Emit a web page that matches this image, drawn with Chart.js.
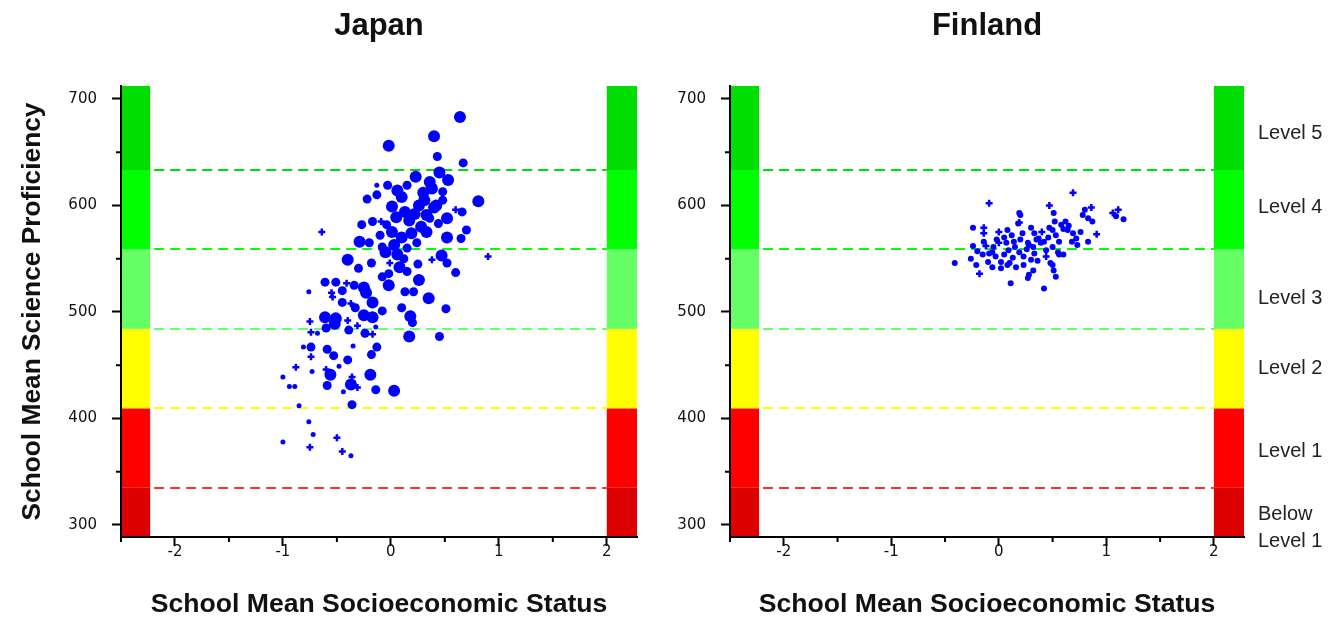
<!DOCTYPE html>
<html>
<head>
<meta charset="utf-8">
<script src="https://cdn.jsdelivr.net/npm/chart.js@4.4.1/dist/chart.umd.min.js"></script>
<style>
  body { margin: 0; background: #fff; }
  #wrap { position: relative; width: 1333px; height: 619px; }
  canvas { position: absolute; top: 0; }
</style>
</head>
<body>
<div id="wrap">
  <canvas id="japanChart" width="665" height="619" style="left:0"></canvas>
  <canvas id="finlandChart" width="668" height="619" style="left:665px"></canvas>
</div>
<script>
// Japan: school mean SES, school mean science score, school size class (0 = smallest)
const jpSes = [
  0.64, 0.40, -0.02, 0.43, 0.67, 0.23, 0.36, 0.45, 0.53, 0.15, -0.03, -0.13, 0.06, 0.38, 0.48,
  -0.13, -0.22, 0.31, 0.48, 0.81, 0.01, 0.13, 0.40, 0.60, 0.66, 0.17, 0.36, 0.52, -0.17, -0.27,
  -0.09, -0.04, 0.01, 0.19, 0.33, 0.52, 0.70, 0.65, -0.64, -0.29, -0.20, 0.03, -0.08, 0.15, 0.24,
  0.06, -0.40, -0.18, -0.01, 0.08, 0.15, 0.38, 0.47, 0.52, 0.60, 0.90, -0.08, -0.02, 0.26, 0.13,
  0.21, 0.35, -0.25, -0.34, -0.41, -0.61, -0.51, -0.76, -0.55, -0.54, -0.45, -0.37, -0.33, -0.23, -0.17,
  -0.25, -0.17, -0.08, 0.10, 0.18, 0.20, 0.51, -0.61, -0.51, -0.52, -0.60, -0.40, -0.39, -0.31, -0.24,
  -0.14, -0.17, -0.75, -0.74, -0.68, 0.17, 0.45, -0.81, -0.74, -0.59, -0.53, -0.35, -0.13, -0.18, -0.40,
  -0.48, -0.74, -0.88, -0.73, -0.60, -0.56, -0.36, -0.19, -1.00, -0.94, -0.89, -0.59, -0.37, -0.31, -0.44,
  -0.14, 0.03, -0.85, -0.36, -0.76, -0.72, -0.50, -1.00, -0.75, -0.45, -0.37, 0.42, 0.26, 0.10, 0.30,
  0.22, 0.05, 0.28, 0.10, -0.05, 0.12, 0.33, -0.10, 0.44, -0.30, -0.02, 0.25, -0.45
];
const jpSci = [
  683, 665, 656, 646, 640, 627, 622, 631, 624, 619, 619, 619, 614, 616, 613,
  610, 606, 605, 605, 604, 599, 594, 598, 596, 594, 586, 588, 588, 585, 582,
  585, 582, 575, 574, 575, 570, 577, 569, 575, 566, 565, 563, 561, 560, 565,
  554, 549, 546, 546, 542, 538, 549, 553, 546, 537, 552, 533, 525, 530, 519,
  519, 513, 523, 525, 527, 528, 528, 519, 518, 514, 509, 508, 504, 518, 509,
  497, 495, 501, 504, 496, 490, 503, 495, 494, 489, 485, 492, 483, 487, 480,
  486, 479, 491, 481, 480, 477, 477, 467, 467, 465, 459, 468, 467, 460, 455,
  449, 458, 448, 444, 446, 441, 439, 441, 439, 430, 430, 431, 432, 429, 425,
  427, 426, 412, 413, 397, 385, 382, 378, 373, 369, 365, 600, 600, 608, 612,
  592, 589, 580, 570, 556, 550, 591, 572, 583, 541, 536, 545, 520
];
const jpWeight = [
  3, 3, 3, 2, 2, 3, 3, 3, 3, 2, 2, 1, 3, 3, 2,
  2, 2, 3, 2, 3, 3, 3, 3, 0, 2, 3, 2, 3, 2, 2,
  0, 2, 3, 3, 3, 3, 2, 2, 0, 3, 2, 3, 2, 2, 2,
  3, 3, 2, 0, 3, 2, 0, 3, 2, 2, 0, 2, 3, 3, 2,
  2, 3, 3, 2, 0, 2, 2, 1, 0, 0, 2, 0, 2, 3, 3,
  3, 3, 2, 2, 3, 2, 2, 3, 3, 3, 2, 0, 2, 0, 2,
  1, 0, 0, 0, 1, 3, 2, 1, 2, 2, 2, 1, 2, 2, 2,
  1, 0, 0, 1, 0, 3, 0, 3, 1, 1, 1, 2, 3, 0, 1,
  2, 3, 1, 2, 1, 1, 0, 1, 0, 0, 1, 3, 3, 3, 3,
  3, 3, 3, 3, 3, 2, 3, 2, 2, 2, 2, 2, 2
];

// Finland
const fiSes = [
  0.69, -0.09, 0.19, 0.20, 0.47, 0.51, 0.86, 0.78, 0.83, 0.87, 1.06, 1.11, 1.16, 0.62, -0.24,
  -0.14, -0.14, 0.00, 0.08, 0.19, 0.30, 0.33, 0.37, 0.42, 0.50, 0.53, 0.58, 0.64, 0.69, 0.76,
  0.91, 0.83, 0.73, -0.14, -0.24, 0.00, 0.07, 0.14, 0.20, 0.27, 0.32, 0.33, 0.30, 0.23, 0.16,
  0.08, 0.02, -0.03, -0.06, -0.09, -0.05, 0.09, 0.19, 0.23, 0.13, 0.05, 0.39, 0.44, 0.50, 0.55,
  0.60, 0.44, 0.50, 0.51, 0.53, 0.32, 0.28, 0.27, 0.11, 0.42, -0.18, -0.21, -0.26, -0.41, -0.20,
  -0.15, -0.10, -0.06, 0.02, 0.56, 0.60, 0.65, 0.18, 0.12, 0.22, 0.05, -0.02, 0.26, 0.35, 0.40,
  0.46, 0.52, 0.47, 0.56, 0.68, 0.72, 1.09, 0.80, 0.36, 0.48, 0.10, -0.12, 0.15, 0.28
];
const fiSci = [
  612, 602, 593, 591, 600, 593, 598, 591, 588, 585, 593, 596, 587, 585, 579,
  579, 574, 575, 577, 584, 579, 574, 569, 566, 577, 572, 582, 577, 574, 575,
  573, 566, 563, 566, 562, 565, 565, 566, 568, 565, 561, 555, 549, 544, 542,
  544, 547, 552, 556, 555, 561, 558, 556, 552, 551, 554, 565, 558, 561, 556,
  554, 552, 544, 539, 533, 539, 535, 532, 527, 522, 536, 544, 550, 546, 557,
  554, 547, 542, 541, 554, 578, 581, 583, 572, 574, 570, 568, 559, 568, 575,
  570, 585, 579, 566, 566, 569, 590, 596, 548, 546, 546, 562, 561, 563
];
const fiWeight = [
  0, 0, 1, 1, 0, 1, 0, 1, 1, 1, 0, 0, 1, 1, 1,
  0, 0, 0, 1, 0, 1, 1, 1, 1, 1, 1, 1, 1, 1, 1,
  0, 1, 1, 1, 1, 0, 1, 1, 1, 1, 1, 1, 1, 1, 1,
  1, 1, 1, 1, 1, 1, 1, 1, 1, 1, 1, 1, 1, 1, 1,
  1, 0, 1, 1, 1, 1, 1, 1, 1, 1, 0, 1, 1, 1, 1,
  1, 1, 1, 1, 1, 1, 1, 1, 1, 1, 1, 1, 1, 1, 0,
  1, 1, 1, 1, 1, 1, 1, 1, 1, 1, 1, 0, 1, 1
];

// PISA science proficiency cut scores and level names (bottom to top)
const levelCuts = [334.94, 409.54, 484.14, 558.73, 633.33];
const levelNames = ['Below|Level 1', 'Level 1', 'Level 2', 'Level 3', 'Level 4', 'Level 5'];
const levelLabelAt = [297, 369, 447, 513, 598, 668];
const yTicks = [300, 400, 500, 600, 700];
const xTicks = [-2, -1, 0, 1, 2];

const bandColors = ['#dd0000', '#ff0000', '#ffff00', '#66ff66', '#00ff00', '#00dd00'];
const cutColors = ['#ff3030', '#ffff00', '#66ff66', '#00ff00', '#00dd00'];

Chart.defaults.font.family = 'Arial, "Liberation Sans", sans-serif';

// coloured level strips at both ends of the x axis plus dashed cut lines
const levelBands = {
    id: 'levelBands',
    beforeDraw(chart) {
        const { ctx, chartArea, scales: { x, y } } = chart;
        const edges = [y.min, ...levelCuts, y.max];
        const l0 = chartArea.left + 1;
        const l1 = x.getPixelForValue(-2.23);
        const r0 = x.getPixelForValue(2);
        const r1 = x.getPixelForValue(x.max);
        ctx.save();
        for (let i = 0; i < bandColors.length; i++) {
            const top = y.getPixelForValue(edges[i + 1]);
            const bot = y.getPixelForValue(edges[i]);
            ctx.fillStyle = bandColors[i];
            ctx.fillRect(l0, top, l1 - l0, bot - top);
            ctx.fillRect(r0, top, r1 - r0, bot - top);
        }
        ctx.lineWidth = 2;
        ctx.setLineDash([10, 6]);
        levelCuts.forEach((cut, i) => {
            const py = Math.round(y.getPixelForValue(cut));
            ctx.strokeStyle = cutColors[i];
            ctx.beginPath();
            ctx.moveTo(l1 + 4, py);
            ctx.lineTo(r0, py);
            ctx.stroke();
        });
        ctx.restore();
    }
};

// short minor ticks, panel title, optional level names
const panelDecor = {
    id: 'panelDecor',
    afterDraw(chart, args, opts) {
        const { ctx, chartArea, scales: { x, y } } = chart;
        ctx.save();
        ctx.strokeStyle = '#000';
        ctx.lineWidth = 2;
        ctx.beginPath();
        x.ticks.forEach(t => {
            if (!xTicks.includes(t.value)) {
                const px = x.getPixelForValue(t.value);
                ctx.moveTo(px, chartArea.bottom);
                ctx.lineTo(px, chartArea.bottom + 5);
            }
        });
        y.ticks.forEach(t => {
            if (!yTicks.includes(t.value)) {
                const py = y.getPixelForValue(t.value);
                ctx.moveTo(chartArea.left, py);
                ctx.lineTo(chartArea.left - 5, py);
            }
        });
        ctx.stroke();

        ctx.fillStyle = '#111';
        ctx.font = 'bold 31px Arial, "Liberation Sans", sans-serif';
        ctx.textAlign = 'center';
        ctx.textBaseline = 'middle';
        ctx.fillText(opts.title, (chartArea.left + chartArea.right) / 2, 26);

        if (opts.levels) {
            ctx.font = '20px Arial, "Liberation Sans", sans-serif';
            ctx.textAlign = 'left';
            ctx.fillStyle = '#222';
            levelNames.forEach((name, i) => {
                const lines = name.split('|');
                const py = y.getPixelForValue(levelLabelAt[i]);
                lines.forEach((line, k) => {
                    ctx.fillText(line, chartArea.right + 14, py + (k - (lines.length - 1) / 2) * 27);
                });
            });
        }
        ctx.restore();
    }
};

const makePanel = (canvasId, title, ses, sci, weight, radii, yAxisWidth, rightPad, showYTitle, showLevels) => {
    const ctx = document.getElementById(canvasId).getContext('2d');
    const points = ses.map((v, i) => ({ x: v, y: sci[i], w: weight[i] }));

    new Chart(ctx, {
        type: 'scatter',
        data: {
            datasets: [{
                data: points,
                backgroundColor: '#0000ff',
                borderColor: '#0000ff',
                pointStyle: c => c.raw.w === 0 ? 'cross' : 'circle',
                pointRadius: c => radii[c.raw.w],
                pointBorderWidth: c => c.raw.w === 0 ? 2.5 : 0,
                pointHoverRadius: c => radii[c.raw.w],
            }]
        },
        options: {
            responsive: false,
            animation: false,
            events: [],
            layout: {
                padding: { top: 86, right: rightPad, left: 0, bottom: 0 }
            },
            scales: {
                x: {
                    type: 'linear',
                    min: -2.5,
                    max: 2.28,
                    afterFit: s => { s.height = 82; },
                    border: { display: true, color: '#000', width: 2 },
                    grid: {
                        drawOnChartArea: false,
                        tickLength: 9,
                        tickWidth: 2,
                        tickColor: c => xTicks.includes(c.tick.value) ? '#000' : 'rgba(0,0,0,0)'
                    },
                    ticks: {
                        stepSize: 0.5,
                        includeBounds: false,
                        autoSkip: false,
                        maxRotation: 0,
                        padding: -3,
                        color: '#111',
                        font: { family: '"DejaVu Sans", Arial, sans-serif', size: 15 },
                        callback: v => xTicks.includes(v) ? String(v) : ''
                    },
                    title: {
                        display: true,
                        text: 'School Mean Socioeconomic Status',
                        color: '#111',
                        font: { size: 26.6, weight: 'bold', lineHeight: 1 },
                        padding: { top: 0, bottom: 1 }
                    }
                },
                y: {
                    min: 288.7,
                    max: 712.2,
                    afterFit: s => { s.width = yAxisWidth; },
                    border: { display: true, color: '#000', width: 2 },
                    grid: {
                        drawOnChartArea: false,
                        tickLength: 9,
                        tickWidth: 2,
                        tickColor: c => yTicks.includes(c.tick.value) ? '#000' : 'rgba(0,0,0,0)'
                    },
                    ticks: {
                        stepSize: 50,
                        includeBounds: false,
                        padding: 15,
                        color: '#111',
                        font: { family: '"DejaVu Sans", Arial, sans-serif', size: 15 },
                        callback: v => yTicks.includes(v) ? String(v) : ''
                    },
                    title: {
                        display: showYTitle,
                        text: 'School Mean Science Proficiency',
                        color: '#111',
                        font: { size: 26.3, weight: 'bold', lineHeight: 1 },
                        padding: { top: 20, bottom: 0 }
                    }
                }
            },
            plugins: {
                legend: { display: false },
                tooltip: { enabled: false },
                panelDecor: { title: title, levels: showLevels }
            }
        },
        plugins: [levelBands, panelDecor]
    });
};

document.addEventListener('DOMContentLoaded', () => {
    makePanel('japanChart', 'Japan', jpSes, jpSci, jpWeight, [3.5, 2.5, 4.5, 6], 121, 28, true, false);
    makePanel('finlandChart', 'Finland', fiSes, fiSci, fiWeight, [3.5, 3], 65, 89, false, true);
});
</script>
</body>
</html>
